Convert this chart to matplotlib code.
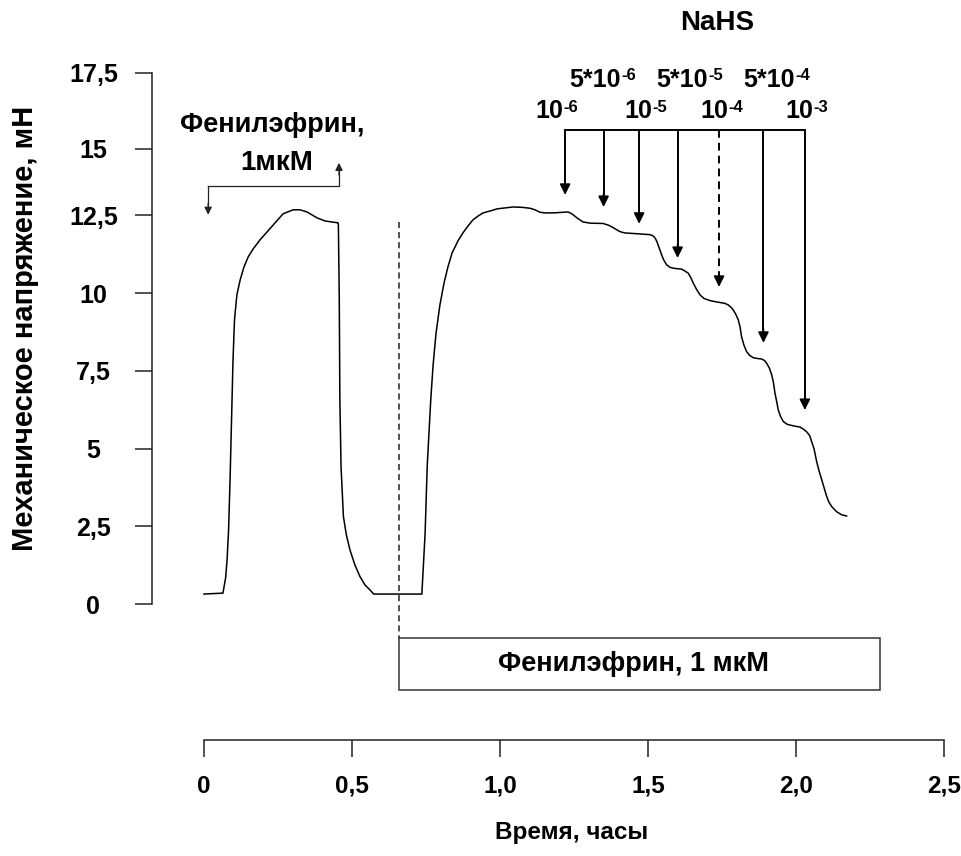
import matplotlib
matplotlib.use('Agg')
import matplotlib.pyplot as plt
from matplotlib.patches import Rectangle

plt.rcParams['font.family'] = ['Liberation Sans', 'DejaVu Sans']
plt.rcParams['font.weight'] = 'bold'

# запись сокращения: время (часы) и напряжение (мН)
time_h = [0.000, 0.064, 0.073, 0.078, 0.083, 0.088, 0.093, 0.098, 0.103, 0.111,
          0.122, 0.135, 0.149, 0.166, 0.189, 0.213, 0.240, 0.267, 0.301, 0.324,
          0.348, 0.382, 0.409, 0.453, 0.454, 0.457, 0.459, 0.463, 0.471, 0.481,
          0.493, 0.510, 0.527, 0.544, 0.561, 0.573, 0.736, 0.742, 0.747, 0.754,
          0.766, 0.774, 0.784, 0.797, 0.811, 0.824, 0.838, 0.858, 0.875, 0.892,
          0.909, 0.926, 0.943, 0.966, 0.990, 1.017, 1.044, 1.074, 1.101, 1.118,
          1.135, 1.152, 1.179, 1.230, 1.243, 1.260, 1.280, 1.304, 1.348, 1.365,
          1.378, 1.392, 1.405, 1.419, 1.429, 1.463, 1.507, 1.517, 1.524, 1.530,
          1.535, 1.541, 1.546, 1.554, 1.563, 1.574, 1.586, 1.614, 1.625, 1.636,
          1.645, 1.653, 1.664, 1.676, 1.689, 1.709, 1.730, 1.749, 1.760, 1.771,
          1.780, 1.788, 1.797, 1.805, 1.811, 1.816, 1.824, 1.833, 1.843, 1.856,
          1.868, 1.884, 1.894, 1.901, 1.910, 1.918, 1.924, 1.929, 1.935, 1.940,
          1.948, 1.957, 1.970, 1.991, 2.014, 2.027, 2.036, 2.046, 2.053, 2.061,
          2.070, 2.078, 2.087, 2.095, 2.104, 2.111, 2.121, 2.137, 2.154, 2.171]
force_mn = [0.32, 0.35, 0.84, 1.42, 2.38, 3.99, 5.92, 7.85, 9.14, 9.94,
            10.42, 10.84, 11.16, 11.42, 11.71, 11.97, 12.26, 12.55, 12.68, 12.68,
            12.61, 12.42, 12.32, 12.26, 12.19, 9.78, 6.56, 4.41, 2.81, 2.22,
            1.74, 1.25, 0.88, 0.61, 0.45, 0.32, 0.32, 1.42, 2.28, 4.42,
            6.56, 7.69, 8.72, 9.62, 10.33, 10.84, 11.29, 11.68, 11.94, 12.16,
            12.36, 12.48, 12.58, 12.64, 12.71, 12.74, 12.77, 12.76, 12.73, 12.68,
            12.60, 12.58, 12.58, 12.61, 12.55, 12.42, 12.29, 12.25, 12.24, 12.19,
            12.13, 12.05, 11.98, 11.94, 11.93, 11.91, 11.88, 11.84, 11.77, 11.66,
            11.52, 11.37, 11.23, 11.05, 10.91, 10.83, 10.80, 10.77, 10.71, 10.64,
            10.49, 10.32, 10.12, 9.94, 9.83, 9.76, 9.72, 9.69, 9.67, 9.62,
            9.55, 9.46, 9.31, 9.14, 8.91, 8.60, 8.33, 8.12, 8.00, 7.92,
            7.90, 7.88, 7.83, 7.74, 7.59, 7.37, 7.11, 6.78, 6.50, 6.24,
            6.03, 5.87, 5.78, 5.73, 5.69, 5.61, 5.54, 5.42, 5.22, 4.99,
            4.57, 4.28, 3.99, 3.72, 3.45, 3.28, 3.13, 2.97, 2.87, 2.83]

y_ticks = [0, 2.5, 5, 7.5, 10, 12.5, 14.64, 17.08]
y_labels = ['0', '2,5', '5', '7,5', '10', '12,5', '15', '17,5']
x_ticks = [0, 0.5, 1.0, 1.5, 2.0, 2.5]
x_labels = ['0', '0,5', '1,0', '1,5', '2,0', '2,5']

# добавления NaHS (моменты, уровень кривой под стрелкой, концентрации)
nahs_t = [1.22, 1.35, 1.47, 1.60, 1.74, 1.89, 2.03]
nahs_tip = [13.16, 12.77, 12.23, 11.13, 10.20, 8.40, 6.24]
nahs_base = ['10', '5*10', '10', '5*10', '10', '5*10', '10']
nahs_exp = ['-6', '-6', '-5', '-5', '-4', '-4', '-3']
nahs_label_t = [1.213, 1.409, 1.514, 1.703, 1.770, 1.997, 2.057]
nahs_bar = 15.25

# фенилэфрин: первая аппликация и постоянное присутствие
pe1_on, pe1_off = 0.014, 0.456
pe2_on, pe2_off = 0.659, 2.284

fig = plt.figure(figsize=(9.62, 8.56), dpi=100)
ax = fig.add_axes([152 / 962, 252 / 856, 792 / 962, 531 / 856])
ax.set_xlim(-0.1757, 2.5)
ax.set_ylim(0, 17.08)

ink = '#222222'
for s in ['top', 'right']:
    ax.spines[s].set_visible(False)
ax.spines['left'].set_linewidth(1.1)
ax.spines['left'].set_color(ink)
ax.spines['bottom'].set_linewidth(1.1)
ax.spines['bottom'].set_color(ink)
ax.spines['bottom'].set_position(('outward', 97.9))
ax.spines['bottom'].set_bounds(0, 2.5)

ax.set_yticks(y_ticks)
ax.set_yticklabels(y_labels)
ax.set_xticks(x_ticks)
ax.set_xticklabels(x_labels)
ax.tick_params(axis='y', length=12.2, width=1.1, color=ink, pad=30, labelsize=18)
ax.tick_params(axis='x', length=12.2, width=1.1, color=ink, pad=13, labelsize=17.5)
for lbl in ax.get_yticklabels():
    lbl.set_horizontalalignment('center')

ax.plot(time_h, force_mn, color='black', lw=1.1, solid_joinstyle='round', clip_on=False)

# первая аппликация фенилэфрина
ax.plot([pe1_on, pe1_off, pe1_off], [13.45, 13.45, 14.0], color=ink, lw=0.9)
ax.plot([pe1_on, pe1_on], [13.45, 12.75], color=ink, lw=0.9)
ax.annotate('', xy=(pe1_on, 12.52), xytext=(pe1_on, 12.9),
            arrowprops=dict(arrowstyle='-|>', mutation_scale=11, color=ink, lw=0.9,
                            shrinkA=0, shrinkB=0))
ax.annotate('', xy=(pe1_off, 14.19), xytext=(pe1_off, 13.8),
            arrowprops=dict(arrowstyle='-|>', mutation_scale=11, color=ink, lw=0.9,
                            shrinkA=0, shrinkB=0))
ax.text(0.23, 15.41, 'Фенилэфрин,', ha='center', va='center', fontsize=19.5)
ax.text(0.247, 14.19, '1мкМ', ha='center', va='center', fontsize=20)

# постоянный фенилэфрин
ax.plot([pe2_on, pe2_on], [12.29, -1.09], color=ink, lw=1.1, ls=(0, (4, 2.6)), clip_on=False)
ax.add_patch(Rectangle((pe2_on, -2.77), pe2_off - pe2_on, 1.68, fill=False,
                       ec='#333333', lw=1.1, clip_on=False))
ax.text((pe2_on + pe2_off) / 2 - 0.02, -1.93, 'Фенилэфрин, 1 мкМ', ha='center',
        va='center', fontsize=19.5)

# NaHS
ax.plot([nahs_t[0], nahs_t[-1]], [nahs_bar, nahs_bar], color='black', lw=1.4,
        solid_capstyle='butt')
for i, t in enumerate(nahs_t):
    ls = (0, (4, 2.6)) if i == 4 else '-'
    ax.plot([t, t], [nahs_bar, nahs_tip[i] + 0.3], color='black', lw=1.4, ls=ls)
    ax.annotate('', xy=(t, nahs_tip[i]), xytext=(t, nahs_tip[i] + 0.45),
                arrowprops=dict(arrowstyle='-|>', mutation_scale=16, color='black',
                                lw=1.2, shrinkA=0, shrinkB=0))
    row = 16.86 if nahs_base[i].startswith('5') else 15.85
    ax.text(nahs_label_t[i], row, nahs_base[i], ha='right', va='center', fontsize=18)
    ax.annotate(nahs_exp[i], xy=(nahs_label_t[i], row), xytext=(0.5, 3),
                textcoords='offset points', ha='left', va='center', fontsize=12)

ax.text(1.733, 18.69, 'NaHS', ha='center', va='center', fontsize=20, clip_on=False)

fig.text(25 / 962, 1 - 328 / 856, 'Механическое напряжение, мН', rotation=90,
         ha='center', va='center', fontsize=21)
fig.text(572 / 962, 1 - 833 / 856, 'Время, часы', ha='center', va='center', fontsize=17.5)

fig.savefig('out.png', dpi=100)
